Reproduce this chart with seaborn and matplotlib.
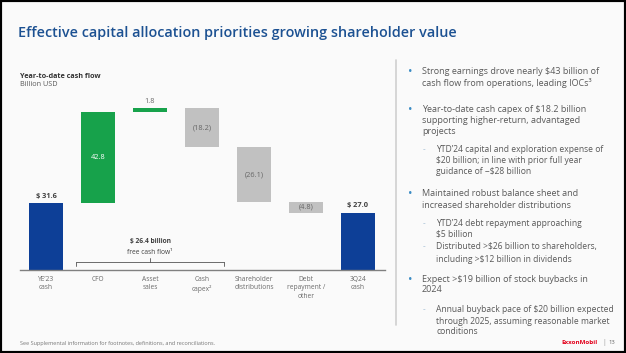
import matplotlib
matplotlib.use("Agg")
import matplotlib.pyplot as plt
import seaborn as sns
import pandas as pd
from matplotlib.lines import Line2D
from matplotlib.patches import Rectangle

# ---------------- data ----------------
categories = ["YE’23\ncash", "CFO", "Asset\nsales", "Cash\ncapex²",
              "Shareholder\ndistributions", "Debt\nrepayment /\nother", "3Q24\ncash"]
changes = [31.6, 42.8, 1.8, -18.2, -26.1, -4.8, 27.0]
kinds = ["total", "increase", "increase", "decrease", "decrease", "decrease", "total"]
value_labels = ["$ 31.6", "42.8", "1.8", "(18.2)", "(26.1)", "(4.8)", "$ 27.0"]
label_pos = ["above", "inside", "above", "inside", "inside", "inside", "above"]

TITLE = "Effective capital allocation priorities growing shareholder value"
bullets = [
    ("b", ["Strong earnings drove nearly $43 billion of",
           "cash flow from operations, leading IOCs³"], [71, 83]),
    ("b", ["Year-to-date cash capex of $18.2 billion",
           "supporting higher-return, advantaged", "projects"], [109, 121, 132]),
    ("s", ["YTD’24 capital and exploration expense of",
           "$20 billion; in line with prior full year",
           "guidance of ~$28 billion"], [150, 161, 172]),
    ("b", ["Maintained robust balance sheet and",
           "increased shareholder distributions"], [193, 205]),
    ("s", ["YTD’24 debt repayment approaching", "$5 billion"], [224, 234]),
    ("s", ["Distributed >$26 billion to shareholders,",
           "including >$12 billion in dividends"], [247, 259]),
    ("b", ["Expect >$19 billion of stock buybacks in", "2024"], [280, 290]),
    ("s", ["Annual buyback pace of $20 billion expected",
           "through 2025, assuming reasonable market", "conditions"], [310, 321, 332]),
]

# ---------------- style ----------------
sns.set_style("white")
plt.rcParams["font.family"] = ["Open Sans", "DejaVu Sans"]

BLUE = "#0d3f97"
GREEN = "#17a24b"
GRAY = "#c1c1c1"
TXT = "#595959"
TITLE_C = "#1c5192"
kind_colors = {"total": BLUE, "increase": GREEN, "decrease": GRAY}

W, H = 626, 353
fig = plt.figure(figsize=(W / 100, H / 100), dpi=100)
fig.patch.set_facecolor("#fafafa")


def F(x, y):
    return x / W, 1 - y / H


# ---------------- waterfall ----------------
bottoms = []
running = 0.0
for v, k in zip(changes, kinds):
    if k == "total":
        bottoms.append(0.0)
        running = v
    elif v >= 0:
        bottoms.append(running)
        running += v
    else:
        running += v
        bottoms.append(running)

df = pd.DataFrame({"category": categories,
                   "height": [abs(v) for v in changes],
                   "kind": kinds})
palette = {c: kind_colors[k] for c, k in zip(categories, kinds)}

ax = fig.add_axes([20 / W, (H - 270) / H, 365 / W, 175 / H])
ax.set_facecolor("none")
sns.barplot(data=df, x="category", y="height", hue="category", palette=palette,
            order=categories, hue_order=categories, dodge=False, legend=False,
            width=0.67, saturation=1, errorbar=None, linewidth=0, ax=ax)
for patch, b in zip(ax.patches, bottoms):
    patch.set_y(b)

ax.set_xlim(-0.5, 6.52)
ax.set_ylim(0, 175 / 2.12)
for s in ["top", "right", "left"]:
    ax.spines[s].set_visible(False)
ax.spines["bottom"].set_color("#808080")
ax.spines["bottom"].set_linewidth(1.0)
ax.set_yticks([])
ax.set_xlabel("")
ax.set_ylabel("")
ax.tick_params(axis="x", length=0, pad=4, labelsize=4.8, labelcolor="#6a6a6a")
for t in ax.get_xticklabels():
    t.set_linespacing(1.35)

for i, (lab, pos) in enumerate(zip(value_labels, label_pos)):
    top = bottoms[i] + abs(changes[i])
    if pos == "above":
        bold = kinds[i] == "total"
        ax.annotate(lab, (i, top), xytext=(0, 2.5), textcoords="offset points",
                    ha="center", va="bottom", fontsize=5.3,
                    fontweight="bold" if bold else "normal",
                    color="#404040" if bold else "#6a6a6a")
    else:
        col = "white" if kinds[i] == "increase" else "#666666"
        ax.text(i, bottoms[i] + abs(changes[i]) / 2, lab, ha="center", va="center",
                fontsize=5.3, color=col)

# free cash flow bracket
bx0, bx1, by = 76, 224, 262
fig.add_artist(Line2D([bx0 / W, bx1 / W], [1 - by / H] * 2, color="#555555", lw=0.6))
for bx in (bx0, bx1):
    fig.add_artist(Line2D([bx / W] * 2, [1 - by / H, 1 - (by + 3.5) / H], color="#555555", lw=0.6))
fig.add_artist(Line2D([150 / W] * 2, [1 - by / H, 1 - (by - 4) / H], color="#555555", lw=0.6))
fig.text(*F(150, 242), "$ 26.4 billion", ha="center", va="center", fontsize=4.8,
         fontweight="bold", color="#404040")
fig.text(*F(150, 252), "free cash flow¹", ha="center", va="center", fontsize=4.8,
         color="#404040")

# ---------------- texts ----------------
title = fig.text(*F(18, 33), TITLE, ha="left", va="center", fontsize=10,
                 fontweight="semibold", color=TITLE_C)
fig.canvas.draw()
bb = title.get_window_extent()
title.set_fontsize(10 * 436 / bb.width)

fig.text(*F(20, 76), "Year-to-date cash flow", ha="left", va="center", fontsize=5.2,
         fontweight="bold", color="#333333")
fig.text(*F(20, 84), "Billion USD", ha="left", va="center", fontsize=5.2, color=TXT)

fig.text(*F(20, 344), "See Supplemental information for footnotes, definitions, and reconciliations.",
         ha="left", va="center", fontsize=3.95, color="#777777")

# divider
fig.add_artist(Line2D([396 / W] * 2, [1 - 60 / H, 1 - 325 / H], color="#cfcfcf", lw=1.2))

for kind, lines, ys in bullets:
    if kind == "b":
        fig.text(*F(410, ys[0]), "•", ha="center", va="center", fontsize=8.5,
                 color="#3b8cc4")
        x, fs = 422, 6.5
    else:
        fig.text(*F(424, ys[0]), "-", ha="center", va="center", fontsize=6,
                 color="#8fb0cc")
        x, fs = 436, 6.15
    for line, y in zip(lines, ys):
        fig.text(*F(x, y), line, ha="left", va="center", fontsize=fs, color=TXT)

fig.text(*F(598, 343), "ExxonMobil", ha="right", va="center", fontsize=4.5,
         fontweight="bold", color="#e3001b")
fig.text(*F(604, 343), "|", ha="center", va="center", fontsize=5, color="#999999")
fig.text(*F(612, 343), "13", ha="center", va="center", fontsize=4.2, color="#666666")

fig.add_artist(Rectangle((0, 0), 1, 1, transform=fig.transFigure, fill=False,
                         edgecolor="black", lw=3))

fig.savefig("out.png", dpi=100, facecolor=fig.get_facecolor())
